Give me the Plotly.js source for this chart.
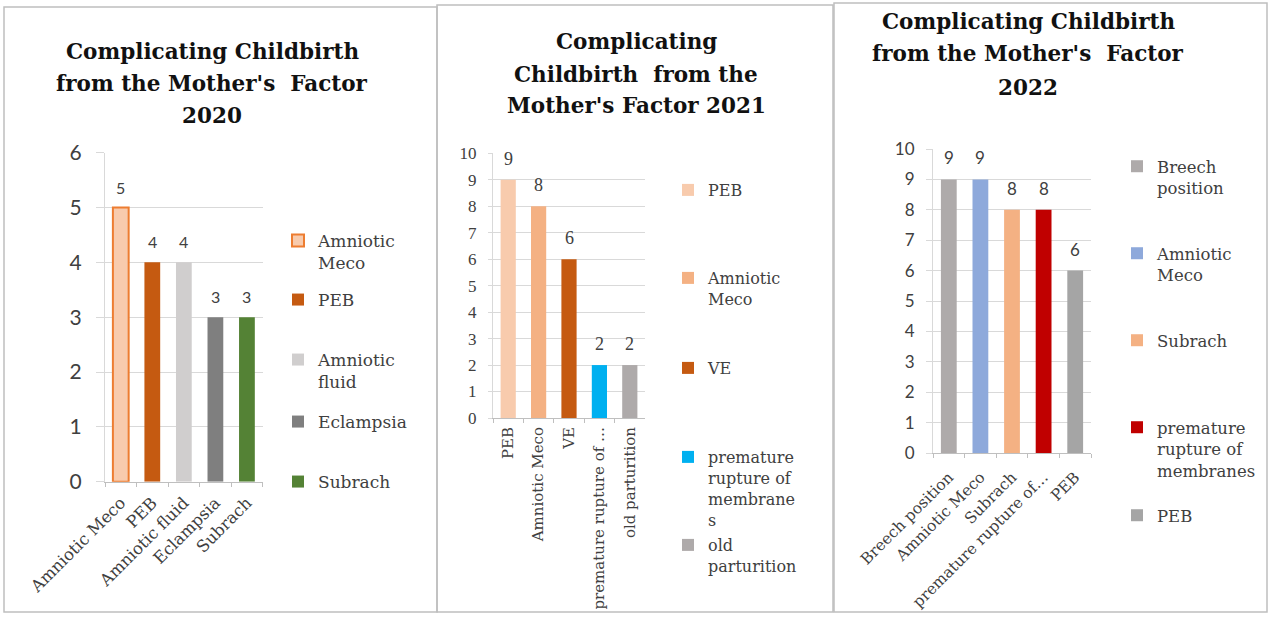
<!DOCTYPE html>
<html>
<head>
<meta charset="utf-8">
<script src="https://cdn.plot.ly/plotly-3.0.1.min.js"></script>
<style>html,body{margin:0;padding:0;background:#fff;}#chart{width:1271px;height:617px;}</style>
</head>
<body>
<div id="chart"></div>
<script>
// ---------- data ----------
const categories2020 = ['Amniotic Meco', 'PEB', 'Amniotic fluid', 'Eclampsia', 'Subrach'];
const values2020 = [5, 4, 4, 3, 3];
const tickLabels2020 = ['Amniotic Meco', 'PEB', 'Amniotic fluid', 'Eclampsia', 'Subrach'];
const legendLabels2020 = ['Amniotic<br>Meco', 'PEB', 'Amniotic<br>fluid', 'Eclampsia', 'Subrach'];

const categories2021 = ['PEB', 'Amniotic Meco', 'VE', 'premature rupture of membranes', 'old parturition'];
const values2021 = [9, 8, 6, 2, 2];
const tickLabels2021 = ['PEB', 'Amniotic Meco', 'VE', 'premature rupture of …', 'old parturition'];
const legendLabels2021 = ['PEB', 'Amniotic<br>Meco', 'VE', 'premature<br>rupture of<br>membrane<br>s', 'old<br>parturition'];

const categories2022 = ['Breech position', 'Amniotic Meco', 'Subrach', 'premature rupture of membranes', 'PEB'];
const values2022 = [9, 9, 8, 8, 6];
const tickLabels2022 = ['Breech position', 'Amniotic Meco', 'Subrach', 'premature rupture of…', 'PEB'];
const legendLabels2022 = ['Breech<br>position', 'Amniotic<br>Meco', 'Subrach', 'premature<br>rupture of<br>membranes', 'PEB'];

const titleLines2020 = ['Complicating Childbirth', "from the Mother's  Factor", '2020'];
const titleLines2021 = ['Complicating', 'Childbirth  from the', "Mother's Factor 2021"];
const titleLines2022 = ['Complicating Childbirth', "from the Mother's  Factor", '2022'];

// ---------- styles ----------
const W = 1271, H = 617;
const px = v => v / W;
const py = v => 1 - v / H;
const serif = 'DejaVu Serif, Liberation Serif, serif';
const sans = 'Lato, Open Sans, sans-serif';
const txt = '#404040';
const grid = '#D9D9D9';

const panels = [
  {
    cats: categories2020, vals: values2020, ticks: tickLabels2020, leg: legendLabels2020, titles: titleLines2020,
    colors: ['#F8CBAD', '#C55A11', '#D0CECE', '#7F7F7F', '#548235'],
    lines: ['#ED7D31', null, null, null, null],
    xdom: [105, 262.7], ydom: [481.7, 152.7], ymax: 6, ticklen: 8, standoff: 10, tickangle: -45,
    yfont: {family: sans, size: 21, color: txt}, lblfont: {family: sans, size: 16, color: txt},
    xfont: {family: serif, size: 16.5, color: txt}, xstand: 4,
    legX: 318, legY: [240, 299, 359, 421, 481], legFont: {family: serif, size: 17, color: txt},
    titleX: 212, titleY: [52, 84, 115]
  },
  {
    cats: categories2021, vals: values2021, ticks: tickLabels2021, leg: legendLabels2021, titles: titleLines2021,
    colors: ['#F8CBAD', '#F4B183', '#C55A11', '#00B0F0', '#AEAAAA'],
    lines: [null, null, null, null, null],
    xdom: [493, 645], ydom: [418, 153.3], ymax: 10, ticklen: 4, standoff: 8, tickangle: -90,
    yfont: {family: 'Liberation Serif, serif', size: 17, color: txt}, lblfont: {family: 'Liberation Serif, serif', size: 18, color: txt},
    xfont: {family: serif, size: 15, color: txt}, xstand: 2,
    legX: 708, legY: [190, 278, 368, 457, 545], legFont: {family: serif, size: 16, color: txt},
    titleX: 636, titleY: [42, 74, 105]
  },
  {
    cats: categories2022, vals: values2022, ticks: tickLabels2022, leg: legendLabels2022, titles: titleLines2022,
    colors: ['#AEAAAA', '#8EA9DB', '#F4B183', '#C00000', '#A5A5A5'],
    lines: [null, null, null, null, null],
    xdom: [933, 1091], ydom: [453, 149], ymax: 10, ticklen: 6, standoff: 8, tickangle: -45,
    yfont: {family: sans, size: 17, color: txt}, lblfont: {family: sans, size: 17, color: txt},
    xfont: {family: serif, size: 15.5, color: txt}, xstand: 8,
    legX: 1157, legY: [166, 253, 340, 427, 515], legFont: {family: serif, size: 16.5, color: txt},
    titleX: 1028, titleY: [22, 54, 87]
  }
];

const traces = [];
const layout = {
  width: W, height: H,
  margin: {l: 0, r: 0, t: 0, b: 0},
  paper_bgcolor: '#ffffff', plot_bgcolor: 'rgba(0,0,0,0)',
  barmode: 'overlay',
  showlegend: true,
  annotations: [],
  shapes: []
};

let legendIndex = 0;
panels.forEach((p, i) => {
  const n = i === 0 ? '' : String(i + 1);
  const xa = 'x' + n, ya = 'y' + n;
  layout['xaxis' + n] = {
    domain: [px(p.xdom[0]), px(p.xdom[1])], anchor: ya, type: 'category',
    categoryorder: 'array', categoryarray: p.cats,
    tickvals: p.cats, ticktext: p.ticks, tickangle: p.tickangle,
    showline: true, linecolor: '#BFBFBF', linewidth: 1,
    ticks: 'outside', tickson: 'boundaries', ticklen: 4, tickcolor: '#BFBFBF',
    ticklabelstandoff: p.xstand,
    showgrid: false, zeroline: false, tickfont: p.xfont, fixedrange: true
  };
  layout['yaxis' + n] = {
    domain: [py(p.ydom[0]), py(p.ydom[1])], anchor: xa,
    range: [0, p.ymax], dtick: 1, tick0: 0,
    showline: true, linecolor: grid, linewidth: 1,
    showgrid: true, gridcolor: grid, gridwidth: 1.3,
    ticks: 'outside', ticklen: p.ticklen, tickcolor: grid,
    ticklabelstandoff: p.standoff,
    zeroline: false, tickfont: p.yfont, fixedrange: true
  };
  p.cats.forEach((c, j) => {
    legendIndex += 1;
    const legId = legendIndex === 1 ? 'legend' : 'legend' + legendIndex;
    const marker = {color: p.colors[j]};
    if (p.lines[j]) marker.line = {color: p.lines[j], width: 2};
    traces.push({
      type: 'bar', x: [c], y: [p.vals[j]], xaxis: xa, yaxis: ya,
      name: p.leg[j], legend: legId, marker: marker, width: 0.5,
      hoverinfo: 'x+y'
    });
    layout[legId] = {
      x: px(p.legX - 40), y: py(p.legY[j] - 17), xanchor: 'left', yanchor: 'top',
      bgcolor: 'rgba(0,0,0,0)', borderwidth: 0, font: p.legFont,
      itemwidth: 30, valign: 'top', itemclick: false, itemdoubleclick: false
    };
    layout.annotations.push({
      x: c, y: p.vals[j], xref: xa, yref: ya, text: String(p.vals[j]),
      showarrow: false, yanchor: 'bottom', yshift: 9, font: p.lblfont
    });
  });
  p.titles.forEach((t, k) => {
    layout.annotations.push({
      x: px(p.titleX), y: py(p.titleY[k]), xref: 'paper', yref: 'paper',
      text: '<b>' + t + '</b>', showarrow: false, xanchor: 'center', yanchor: 'middle',
      font: {family: serif, size: 21.5, color: '#111111'}
    });
  });
});

// panel frames
const frames = [[4, 7, 437, 612], [437, 5, 833, 612], [834, 3, 1267, 612]];
frames.forEach(f => {
  layout.shapes.push({type: 'rect', xref: 'paper', yref: 'paper',
    x0: px(f[0]), x1: px(f[2]), y0: py(f[3]), y1: py(f[1]),
    line: {color: '#BFBFBF', width: 1.5}, fillcolor: 'rgba(0,0,0,0)', layer: 'below'});
});

Plotly.newPlot('chart', traces, layout, {displayModeBar: false, staticPlot: false});
</script>
</body>
</html>
